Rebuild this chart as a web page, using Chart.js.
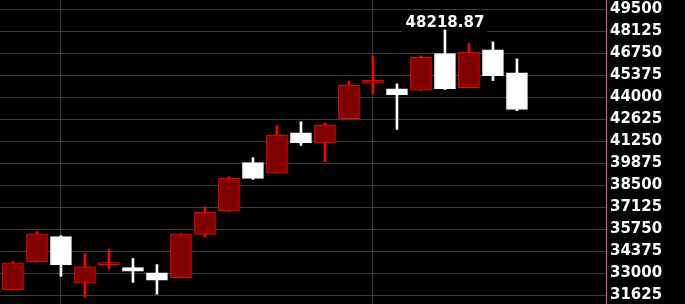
<!DOCTYPE html>
<html>
<head>
<meta charset="utf-8">
<script src="https://cdn.jsdelivr.net/npm/chart.js@4.4.1/dist/chart.umd.min.js"></script>
<style>
html, body { margin: 0; padding: 0; background: #000; }
</style>
</head>
<body>
<canvas id="kline" width="685" height="304"></canvas>
<script>
// candle data (index 0 = oldest)
var opens  = [31950, 33690, 35280, 32360, 33530, 33340, 33010, 32700, 35420, 36890, 39910, 39260, 41780, 41140, 42670, 44890, 44530, 44450, 46740, 44610, 46970, 45530];
var closes = [33640, 35450, 33530, 33390, 33590, 33110, 32550, 35450, 36820, 38950, 38920, 41640, 41170, 42260, 44760, 45080, 44170, 46510, 44550, 46830, 45360, 43240];
var highs  = [33720, 35590, 35340, 34220, 34470, 33910, 33530, 35470, 37140, 39030, 40220, 42220, 42470, 42390, 45030, 46590, 44840, 46590, 48218.87, 47360, 47470, 46410];
var lows   = [31940, 33680, 32800, 31490, 33240, 32420, 31680, 32690, 35240, 36870, 38860, 39250, 40990, 39970, 42650, 44240, 41990, 44440, 44490, 44600, 45050, 43170];

// price ticks on the right axis
var yTicks = [49500, 48125, 46750, 45375, 44000, 42625, 41250, 39875, 38500, 37125, 35750, 34375, 33000, 31625];
// candles where the vertical separators sit
var dividers = [2, 15];

var RED = '#ff0000', DARKRED = '#800000', WHITE = '#ffffff';

var bodies = [], wicks = [], bodyFill = [], bodyLine = [], wickColor = [];
for (var i = 0; i < opens.length; i++) {
  var up = closes[i] >= opens[i];
  bodies.push({ x: i, y: [opens[i], closes[i]] });
  wicks.push({ x: i, y: [lows[i], highs[i]] });
  bodyFill.push(up ? DARKRED : WHITE);
  bodyLine.push(up ? RED : WHITE);
  wickColor.push(up ? RED : WHITE);
}

var peakIdx = highs.indexOf(Math.max.apply(null, highs));
var labelFont = 'bold 15px "DejaVu Sans"';

var peakLabel = {
  id: 'peakLabel',
  beforeDatasetsDraw: function (chart) {
    var ctx = chart.ctx;
    var x = chart.scales.x.getPixelForValue(peakIdx);
    var y = chart.scales.y.getPixelForValue(highs[peakIdx]);
    var txt = highs[peakIdx].toFixed(2);
    ctx.save();
    ctx.font = labelFont;
    var w = ctx.measureText(txt).width;
    ctx.fillStyle = '#000';
    ctx.fillRect(x - w / 2 - 3, y - 18, w + 6, 20);
    ctx.restore();
  },
  afterDatasetsDraw: function (chart) {
    var ctx = chart.ctx;
    var x = chart.scales.x.getPixelForValue(peakIdx);
    var y = chart.scales.y.getPixelForValue(highs[peakIdx]);
    ctx.save();
    ctx.font = labelFont;
    ctx.fillStyle = '#fff';
    ctx.textAlign = 'center';
    ctx.textBaseline = 'alphabetic';
    ctx.fillText(highs[peakIdx].toFixed(2), x, y - 3);
    ctx.restore();
  }
};

new Chart(document.getElementById('kline'), {
  type: 'bar',
  data: {
    datasets: [{
      data: bodies,
      backgroundColor: bodyFill,
      borderColor: bodyLine,
      borderWidth: 1,
      borderSkipped: false,
      barThickness: 21,
      minBarLength: 2
    }, {
      data: wicks,
      backgroundColor: wickColor,
      borderWidth: 0,
      barThickness: 2
    }]
  },
  options: {
    responsive: false,
    animation: false,
    devicePixelRatio: 1,
    layout: { padding: 0 },
    plugins: { legend: { display: false }, tooltip: { enabled: false } },
    scales: {
      x: {
        type: 'linear',
        stacked: true,
        offset: false,
        min: -0.54,
        max: 24.71,
        afterBuildTicks: function (scale) {
          scale.ticks = dividers.map(function (v) { return { value: v }; });
        },
        ticks: { display: false },
        grid: { color: '#3c3c3c', lineWidth: 1, drawTicks: false, offset: false },
        border: { display: false }
      },
      y: {
        position: 'right',
        min: 31062.5,
        max: 50093.75,
        afterBuildTicks: function (scale) {
          scale.ticks = yTicks.map(function (v) { return { value: v }; });
        },
        afterFit: function (scale) {
          scale.width = 79;
          scale.paddingTop = 0;
          scale.paddingBottom = 0;
        },
        ticks: {
          color: '#fff',
          padding: 4,
          font: { family: 'DejaVu Sans', size: 15, weight: 'bold' },
          callback: function (v) { return String(v); }
        },
        grid: { color: '#3c3c3c', lineWidth: 1, drawTicks: false },
        border: { color: '#f0509a', width: 1 }
      }
    }
  },
  plugins: [peakLabel]
});
</script>
</body>
</html>
